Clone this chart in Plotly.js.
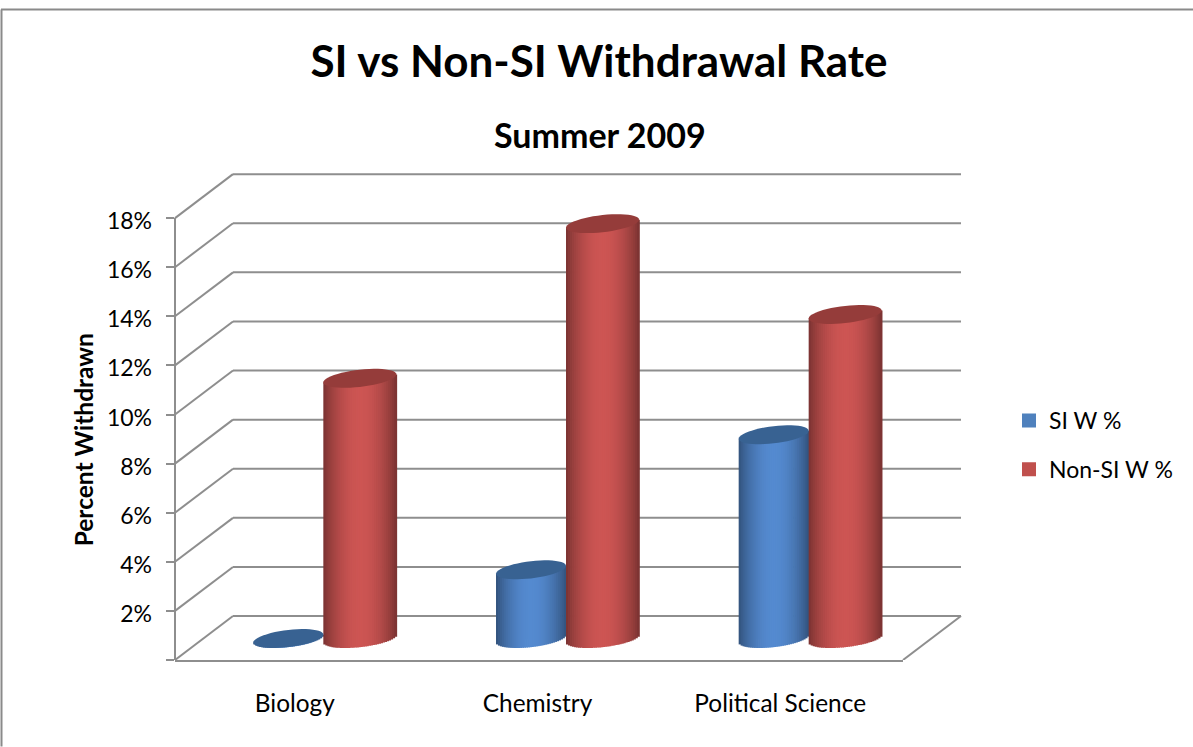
<!DOCTYPE html>
<html>
<head>
<meta charset="utf-8">
<script src="https://cdn.plot.ly/plotly-3.0.1.min.js"></script>
<style>html,body{margin:0;padding:0;background:#fff;overflow:hidden}</style>
</head>
<body>
<div id="chart" style="width:1193px;height:747px"></div>
<script>
// values
const categories = ['Biology', 'Chemistry', 'Political Science'];
const siValues = [0, 2.8, 8.3];
const nonSiValues = [10.6, 16.9, 13.2];
const yTicks = [0, 2, 4, 6, 8, 10, 12, 14, 16, 18];

const FONT = 'Lato, sans-serif';
const W = 1193, H = 747;
const Y_MAX = 20;     // plot runs above 18% so the cylinder tops are not clipped
const pxPerUnit = 442.5 / 18;
const PLOT = { left: 175, right: 903, bottom: 660.5, top: 660.5 - Y_MAX * pxPerUnit };
const pxPerCat = (PLOT.right - PLOT.left) / 3;

// fake depth of the 3D box, in pixels
const DEPTH_X = 58, DEPTH_Y = 44;
const BAR_BASE_PX = 639;     // where the cylinders stand on the floor
const BAR_SHIFT_X = 27;

const fx = px => (px - PLOT.left) / (PLOT.right - PLOT.left);
const fy = py => (PLOT.bottom - py) / (PLOT.bottom - PLOT.top);

const GRID = '#8e8e8e';
const shapes = [];

// back wall and side wall grid
const dxP = DEPTH_X / (PLOT.right - PLOT.left);
const dyU = DEPTH_Y / pxPerUnit;
yTicks.forEach(v => {
    shapes.push({ type: 'line', layer: 'below', xref: 'paper', yref: 'y', x0: 0, x1: dxP, y0: v, y1: v + dyU, line: { color: GRID, width: 2 } });
    shapes.push({ type: 'line', layer: 'below', xref: 'paper', yref: 'y', x0: dxP, x1: 1 + dxP, y0: v + dyU, y1: v + dyU, line: { color: GRID, width: 2 } });
});
// floor right edge
shapes.push({ type: 'line', layer: 'below', xref: 'paper', yref: 'y', x0: 1, x1: 1 + dxP, y0: 0, y1: dyU, line: { color: GRID, width: 2 } });
// front axis line stops at 18%
shapes.push({ type: 'line', layer: 'below', xref: 'paper', yref: 'y', x0: 0, x1: 0, y0: 0, y1: 18, line: { color: GRID, width: 2 } });

// outer chart frame (left and top only are in view)
shapes.push({ type: 'line', xref: 'paper', yref: 'paper', x0: fx(1.5), x1: fx(1.5), y0: fy(9), y1: fy(H), line: { color: '#8a8a8a', width: 2 } });
shapes.push({ type: 'line', xref: 'paper', yref: 'paper', x0: fx(1), x1: fx(W), y0: fy(9), y1: fy(9), line: { color: '#8a8a8a', width: 2 } });

// cylinders: each one is a stack of thin bars with a shaded colour
const SLICES = 36;
const RY = 8.6 / pxPerUnit;     // ellipse height
const TILT = 4 / pxPerUnit;     // ellipse lean, right side higher

function shade(c, u) {
    // bright in the middle, dark on the edges
    const k = 0.58 + 0.42 * Math.pow(Math.cos(u * Math.PI / 2), 0.8);
    return 'rgb(' + c.map(n => Math.round(n * k)).join(',') + ')';
}

const xIdx = categories.map((_, i) => i);
const traces = [];

// dummy traces so the main axes and the label axis are drawn
traces.push({ type: 'scatter', mode: 'markers', x: categories, y: categories.map(() => 0), marker: { opacity: 0 }, hoverinfo: 'skip', showlegend: false });
traces.push({ type: 'scatter', mode: 'markers', x: categories, y: categories.map(() => 0), yaxis: 'y3', marker: { opacity: 0 }, hoverinfo: 'skip', showlegend: false });

function addCylinders(name, values, mid, halfW, center, swatch, topColor) {
    // real bar, hidden behind the slices, gives the legend entry
    traces.push({
        type: 'bar', name: name, legendgroup: name, x: xIdx, y: values, xaxis: 'x2', yaxis: 'y2',
        width: halfW, offset: center - halfW / 2,
        marker: { color: swatch, line: { color: swatch, width: 2 } }, hoverinfo: 'skip'
    });
    const sw = 2 * halfW / SLICES;
    for (let s = 0; s < SLICES; s++) {
        const u = -1 + (s + 0.5) * 2 / SLICES;
        const rim = RY * Math.sqrt(1 - u * u);
        const bases = values.map(() => TILT * u - rim);
        traces.push({
            type: 'bar', x: xIdx, y: values.map((v, i) => v + TILT * u - bases[i]), base: bases,
            xaxis: 'x2', yaxis: 'y2', width: sw * 1.4, offset: center + u * halfW - sw / 2,
            marker: { color: shade(mid, u), line: { width: 0 } }, showlegend: false, hoverinfo: 'skip'
        });
    }
    values.forEach((v, i) => {
        let path = '';
        for (let a = 0; a < 48; a++) {
            const t = a / 48 * 2 * Math.PI;
            const px = i + center + halfW * Math.cos(t);
            const py = v + RY * Math.sin(t) + TILT * Math.cos(t);
            path += (a ? 'L' : 'M') + px.toFixed(4) + ',' + py.toFixed(4);
        }
        shapes.push({ type: 'path', layer: 'above', xref: 'x2', yref: 'y2', path: path + 'Z', fillcolor: topColor, line: { width: 0 } });
    });
}

const siHalf = 35 / pxPerCat, nonHalf = 36.5 / pxPerCat;
addCylinders('SI W %', siValues, [84, 138, 208], siHalf, -siHalf, '#4F81BD', '#386292');
addCylinders('Non-SI W %', nonSiValues, [205, 85, 83], nonHalf, nonHalf, '#C0504D', '#953C3A');

const shiftCat = BAR_SHIFT_X / pxPerCat;
const baseU = (PLOT.bottom - BAR_BASE_PX) / pxPerUnit;
const labelNudge = 3 / pxPerUnit;     // tick labels sit a little below their ticks
const catNudge = 1.5 / pxPerCat;

const layout = {
    width: W, height: H,
    paper_bgcolor: '#fff', plot_bgcolor: 'rgba(0,0,0,0)',
    font: { family: FONT, color: '#000' },
    margin: { l: PLOT.left, r: W - PLOT.right, t: PLOT.top, b: H - PLOT.bottom, pad: 0 },
    barmode: 'overlay',
    title: {
        text: '<b>SI vs Non-SI Withdrawal Rate</b>',
        font: { family: FONT, size: 44, color: '#000' },
        x: 599 / W, xanchor: 'center', y: 1 - 62 / H, yanchor: 'middle'
    },
    annotations: [
        { text: '<b>Summer 2009</b>', xref: 'paper', yref: 'paper', x: fx(600), y: fy(112), showarrow: false, font: { family: FONT, size: 34 } },
        { text: '<b>Percent Withdrawn</b>', xref: 'paper', yref: 'paper', x: fx(67), y: fy(440), textangle: -90, showarrow: false, font: { family: FONT, size: 24.5 } }
    ],
    xaxis: {
        type: 'category', categoryarray: categories, range: [-0.5 + catNudge, 2.5 + catNudge], fixedrange: true,
        showgrid: false, zeroline: false, showline: true, linecolor: GRID, linewidth: 2,
        ticks: '', ticklabelstandoff: 21, tickfont: { family: FONT, size: 24.4 }
    },
    yaxis: {
        range: [0, Y_MAX], tickvals: yTicks, showticklabels: false, fixedrange: true,
        showgrid: false, zeroline: false, showline: false,
        ticks: 'outside', ticklen: 8, tickcolor: GRID, tickwidth: 2
    },
    yaxis3: {
        overlaying: 'y', anchor: 'x', side: 'left', range: [labelNudge, Y_MAX + labelNudge],
        tickvals: yTicks, ticktext: yTicks.map(v => v + '%'), fixedrange: true,
        showgrid: false, zeroline: false, showline: false,
        ticks: '', ticklabelstandoff: 22, tickfont: { family: FONT, size: 23 }
    },
    xaxis2: { overlaying: 'x', anchor: 'y2', type: 'linear', range: [-0.5 - shiftCat, 2.5 - shiftCat], visible: false, fixedrange: true },
    yaxis2: { overlaying: 'y', anchor: 'x2', range: [-baseU, Y_MAX - baseU], visible: false, fixedrange: true },
    legend: {
        x: 1009 / W, xref: 'container', xanchor: 'left', y: 1 - 445 / H, yref: 'container', yanchor: 'middle',
        font: { family: FONT, size: 23 }, itemwidth: 30, tracegroupgap: 16, bgcolor: 'rgba(0,0,0,0)'
    },
    shapes: shapes
};

Plotly.newPlot('chart', traces, layout, { displayModeBar: false, responsive: false });
</script>
</body>
</html>
